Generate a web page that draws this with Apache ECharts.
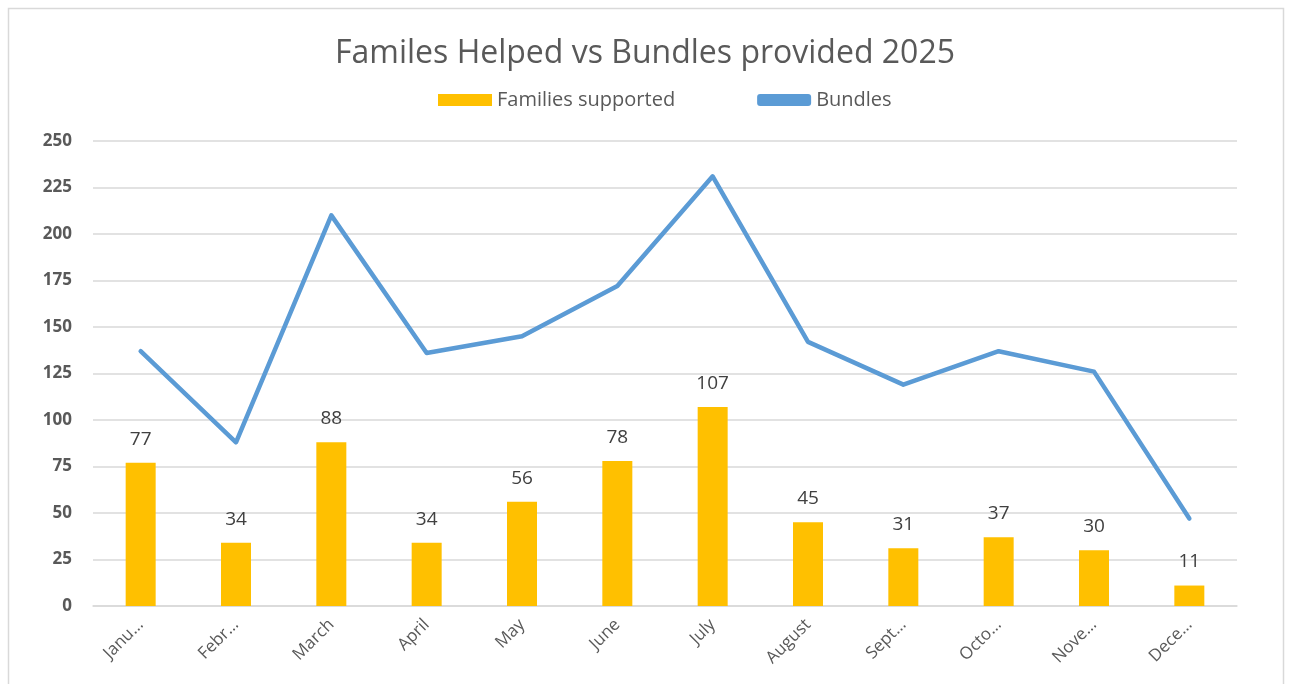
<!DOCTYPE html>
<html>
<head>
<meta charset="utf-8">
<script src="https://cdn.jsdelivr.net/npm/echarts@6/dist/echarts.min.js"></script>
<style>
  html, body { margin: 0; padding: 0; background: #fff; }
  #chart { width: 1290px; height: 684px; }
</style>
</head>
<body>
<div id="chart"></div>
<script>
// month labels as they appear on the axis
const months = ["Janu…", "Febr…", "March", "April", "May", "June", "July", "August", "Sept…", "Octo…", "Nove…", "Dece…"];
const families = [77, 34, 88, 34, 56, 78, 107, 45, 31, 37, 30, 11];
const bundles = [137, 88, 210, 136, 145, 172, 231, 142, 119, 137, 126, 47];

const font = "'Open Sans', 'Noto Sans', sans-serif";
const chart = echarts.init(document.getElementById("chart"));

chart.setOption({
  animation: false,
  textStyle: { fontFamily: font },
  graphic: [{
    type: "rect",
    shape: { x: 8.5, y: 8.5, width: 1275, height: 700 },
    style: { fill: "none", stroke: "#d9d9d9", lineWidth: 1.5 },
    silent: true
  }],
  title: {
    text: "Familes Helped vs Bundles provided 2025",
    left: "center",
    top: 33,
    textStyle: { fontFamily: font, fontSize: 32, fontWeight: "normal", color: "#595959" }
  },
  legend: {
    top: 85,
    left: 433,
    itemGap: 82,
    itemWidth: 54,
    itemHeight: 12,
    textStyle: { fontFamily: font, fontSize: 20, color: "#595959" },
    data: [
      { name: "Families supported", icon: "rect" },
      { name: "Bundles", icon: "roundRect" }
    ]
  },
  grid: { left: 93, right: 53, top: 141, bottom: 78 },
  xAxis: {
    type: "category",
    data: months,
    axisLine: { lineStyle: { color: "#d9d9d9", width: 1.5 } },
    axisTick: { show: false },
    axisLabel: {
      rotate: 45,
      interval: 0,
      margin: 16,
      fontFamily: font,
      fontSize: 17,
      color: "#595959"
    }
  },
  yAxis: {
    type: "value",
    min: 0,
    max: 250,
    interval: 25,
    axisLine: { show: false },
    axisTick: { show: false },
    splitLine: { lineStyle: { color: "#d9d9d9", width: 1.5 } },
    axisLabel: {
      margin: 21,
      fontFamily: font,
      fontSize: 17,
      fontWeight: "bold",
      color: "#595959"
    }
  },
  series: [
    {
      name: "Families supported",
      type: "bar",
      data: families,
      barWidth: 30,
      itemStyle: { color: "#ffc000" },
      label: {
        show: true,
        position: "top",
        distance: 14,
        fontFamily: font,
        fontSize: 19,
        color: "#404040"
      }
    },
    {
      name: "Bundles",
      type: "line",
      data: bundles,
      showSymbol: false,
      symbol: "none",
      lineStyle: { color: "#5b9bd5", width: 4.5, cap: "round", join: "round" },
      itemStyle: { color: "#5b9bd5" }
    }
  ]
});
</script>
</body>
</html>
